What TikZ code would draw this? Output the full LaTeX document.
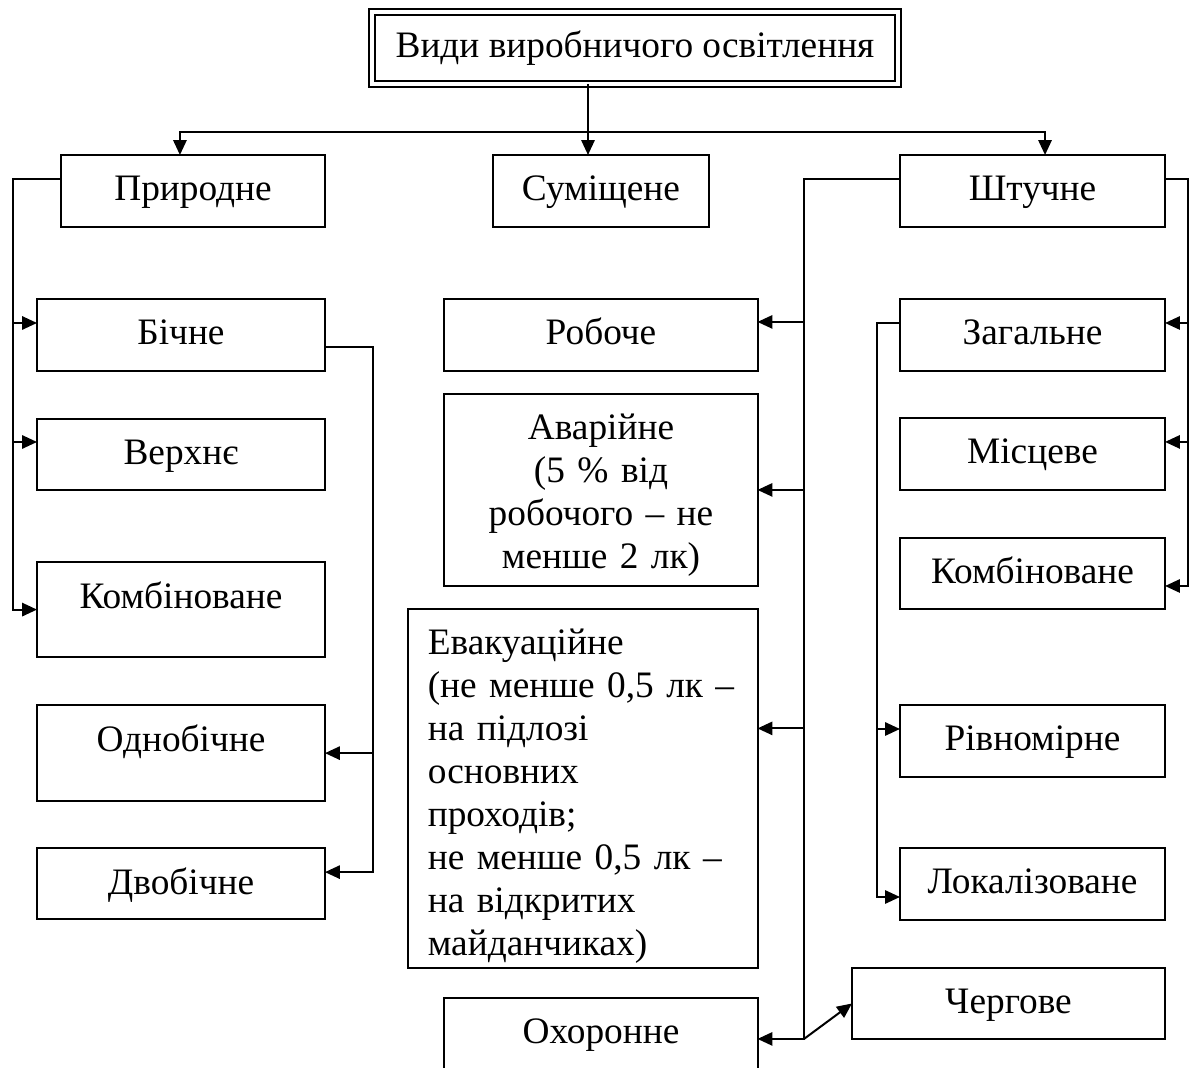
\documentclass[tikz,border=0pt]{standalone}
\usepackage{fontspec}
\setmainfont{Liberation Serif}
\usetikzlibrary{positioning}
\usetikzlibrary{arrows.meta}
\tikzset{>={Triangle[width=5pt,length=5.6pt]}}
\tikzset{box/.style={draw, inner sep=0pt, outer sep=0pt, line width=0.75pt, font=\fontsize{14pt}{16.1pt}\selectfont, text height=17.25pt, text depth=9.75pt}}

\begin{document}
\begin{tikzpicture}[x=0.375pt, y=-0.375pt, line width=0.75pt]
    \useasboundingbox (0,0) rectangle (1197,1068);
    \node (top) [box, double, double distance=1.5pt, minimum width=197.25pt] at (635,48) {Види виробничого освітлення};
    \node (nat) [box, minimum width=99pt] at (193,191) {Природне};
    \node (sum) [box, minimum width=81pt] at (601,191) {Суміщене};
    \node (art) [box, minimum width=99.4pt] at (1032.5,191) {Штучне};

    \node (side) [box, minimum width=108pt, below=27pt of nat.south east, anchor=north east] {Бічне};
    \node (upper) [box, minimum width=108pt, text depth=9.4pt, below=18pt of side] {Верхнє};
    \node (combL) [box, minimum width=108pt, text depth=18.4pt, below=27pt of upper] {Комбіноване};
    \node (oneside) [box, minimum width=108pt, text depth=18.75pt, below=18pt of combL] {Однобічне};
    \node (twoside) [box, minimum width=108pt, text depth=9.4pt, below=17.6pt of oneside] {Двобічне};

    \node (work) [box, minimum width=117.4pt, below=27pt of sum] {Робоче};
    \node (emerg) [box, align=center, text width=117.4pt, text depth=54.75pt, below=8.6pt of work] {Аварійне\\(5 \% від\\робочого – не\\менше 2 лк)};
    \node (evac) [box, align=left, inner xsep=7.25pt, text width=116.4pt, text depth=117.4pt, below=8.6pt of emerg.south east, anchor=north east] {Евакуаційне\\(не менше 0,5 лк –\\на підлозі\\основних\\проходів;\\не менше 0,5 лк –\\на відкритих\\майданчиках)};
    \node (guard) [box, minimum width=117.4pt, text depth=13.5pt, below=11.25pt of evac.south east, anchor=north east] {Охоронне};

    \node (general) [box, minimum width=99.4pt, below=27pt of art] {Загальне};
    \node (local) [box, minimum width=99.4pt, below=17.6pt of general] {Місцеве};
    \node (combR) [box, minimum width=99.4pt, text depth=9.4pt, below=18pt of local] {Комбіноване};
    \node (uniform) [box, minimum width=99.4pt, below=36pt of combR] {Рівномірне};
    \node (localized) [box, minimum width=99.4pt, below=26.6pt of uniform] {Локалізоване};
    \node (duty) [box, minimum width=117.4pt, text depth=9.4pt, below=18pt of localized.south east, anchor=north east] {Чергове};

    \coordinate (hub) at (588,132);
    \coordinate (lbus) at (13,400);
    \coordinate (sbus) at (373,600);
    \coordinate (mbus) at (804,600);
    \coordinate (rbus) at (1188,400);
    \coordinate (gbus) at (877,600);

    \draw [->] (top.south -| hub) -- (sum.north -| hub);
    \draw [<->] ([xshift=-4.9pt]nat.north) |- (hub) -| ([xshift=4.7pt]art.north);

    \draw [->] ([yshift=4.5pt]nat.west) -| (lbus) |- (combL.west);
    \draw [->] ([yshift=4.5pt]side.west -| lbus) -- ([yshift=4.5pt]side.west);
    \draw [->] ([yshift=4.7pt]upper.west -| lbus) -- ([yshift=4.7pt]upper.west);
    \draw [->] ([yshift=-4.5pt]side.east) -| (sbus) |- ([yshift=4.3pt]twoside.east);
    \draw [->] (oneside.east -| sbus) -- (oneside.east);

    \draw [->] ([yshift=4.5pt]art.west) -| (mbus) |- (guard.east);
    \draw [->] ([yshift=4.9pt]work.east -| mbus) -- ([yshift=4.9pt]work.east);
    \draw [->] (emerg.east -| mbus) -- (emerg.east);
    \draw [->] ([yshift=22.5pt]evac.east -| mbus) -- ([yshift=22.5pt]evac.east);
    \draw [->] (guard.east -| mbus) -- (duty.west);

    \draw [->] ([yshift=4.5pt]art.east) -| (rbus) |- ([yshift=-4.7pt]combR.east);
    \draw [->] ([yshift=4.5pt]general.east -| rbus) -- ([yshift=4.5pt]general.east);
    \draw [->] ([yshift=4.5pt]local.east -| rbus) -- ([yshift=4.5pt]local.east);
    \draw [->] ([yshift=4.5pt]general.west) -| (gbus) |- ([yshift=-4.9pt]localized.west);
    \draw [->] ([yshift=4.5pt]uniform.west -| gbus) -- ([yshift=4.5pt]uniform.west);
\end{tikzpicture}
\end{document}
